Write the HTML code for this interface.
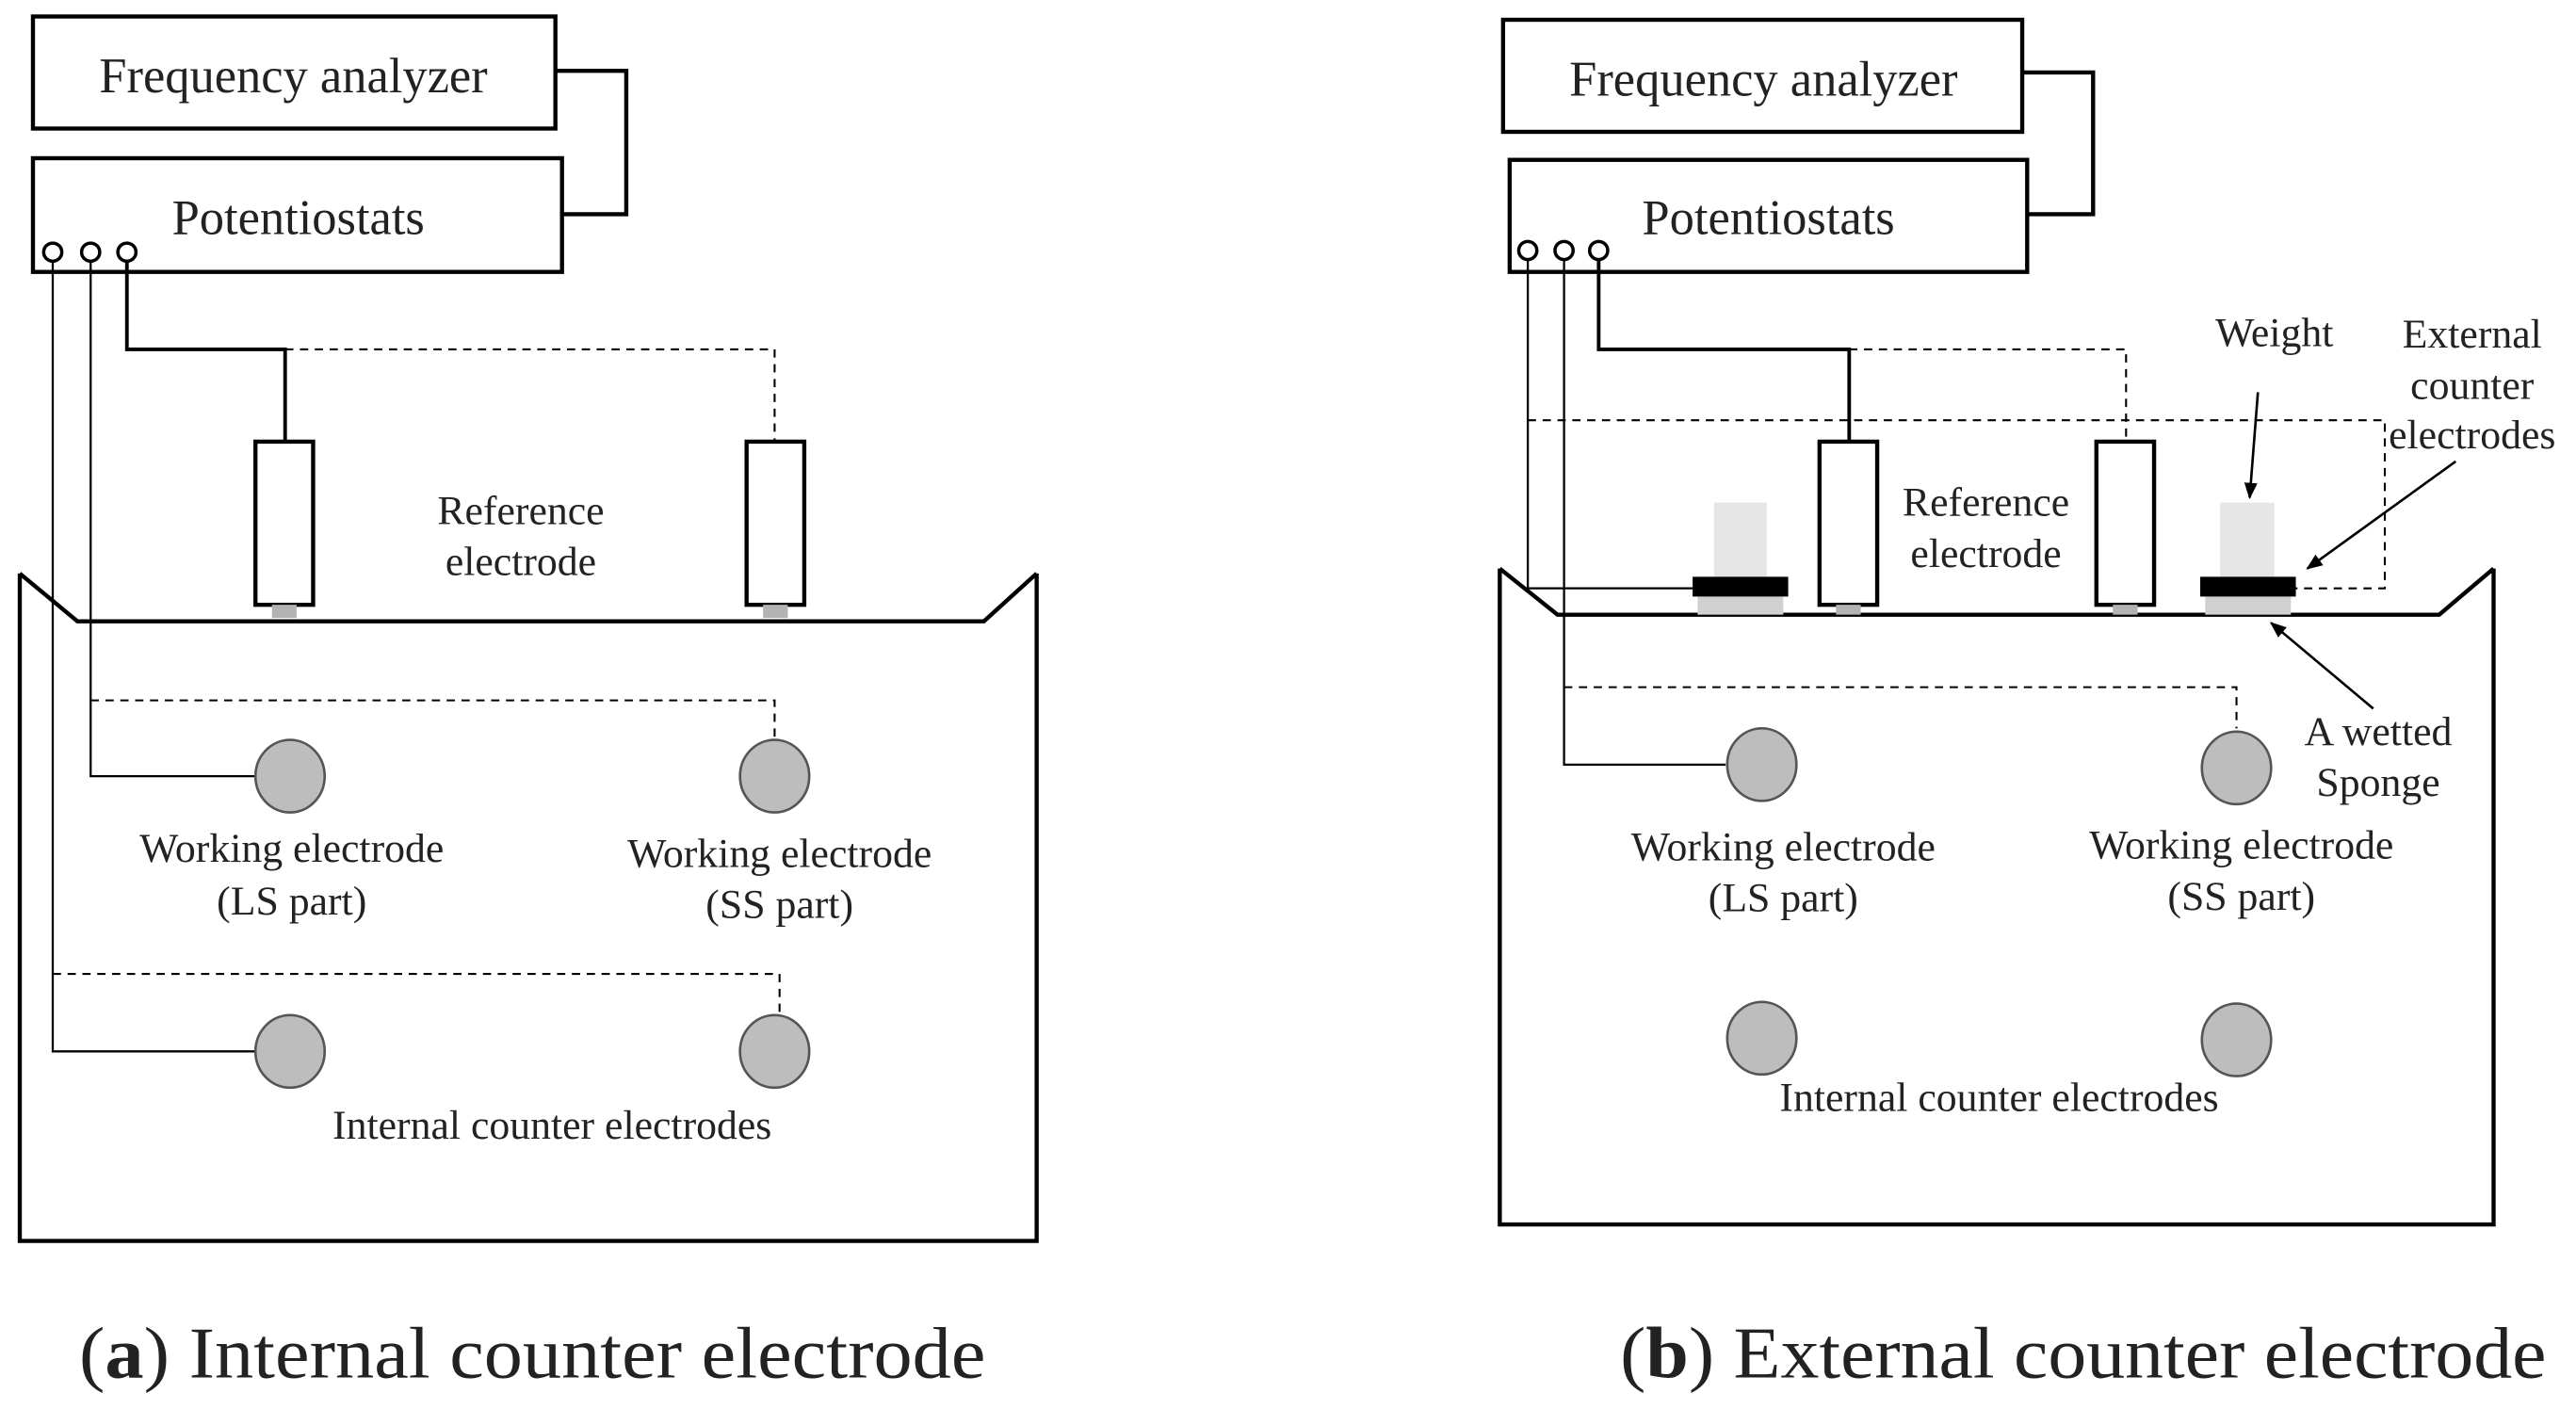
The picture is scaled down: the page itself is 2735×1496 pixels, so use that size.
<!DOCTYPE html>
<html><head><meta charset="utf-8"><style>
html,body{margin:0;padding:0;background:#fff;width:2735px;height:1496px;overflow:hidden}
svg{display:block}
text{font-family:"Liberation Serif",serif;fill:#222}
</style></head><body>
<svg width="2735" height="1496" viewBox="0 0 1563 855" preserveAspectRatio="none" xmlns="http://www.w3.org/2000/svg">
<defs><marker id="ar" markerWidth="10" markerHeight="10" refX="9" refY="5" orient="auto" markerUnits="userSpaceOnUse"><path d="M0,1 L10,5 L0,9 z" fill="#000"/></marker></defs>
<g fill="none" stroke="#000">
<rect x="20" y="10" width="317" height="68" stroke-width="2.5"/>
<rect x="20" y="96" width="321" height="69" stroke-width="2.5"/>
<polyline points="337,43 380,43 380,130 341,130" stroke-width="2.5"/>
<circle cx="32" cy="153" r="5.5" stroke-width="2"/><circle cx="55" cy="153" r="5.5" stroke-width="2"/><circle cx="77" cy="153" r="5.5" stroke-width="2"/>
<polyline points="32,159 32,638 155,638" stroke-width="1.3"/>
<polyline points="55,159 55,471 155,471" stroke-width="1.3"/>
<polyline points="77,159 77,212 173,212 173,268" stroke-width="2.2"/>
<polyline points="173,212 470,212 470,268" stroke-width="1.2" stroke-dasharray="5,4"/>
<polyline points="55,425 470,425 470,450" stroke-width="1.2" stroke-dasharray="5,4"/>
<polyline points="32,591 473,591 473,618" stroke-width="1.2" stroke-dasharray="5,4"/>
<rect x="155" y="268" width="35" height="99" stroke-width="2.5"/>
<rect x="453" y="268" width="35" height="99" stroke-width="2.5"/>
<polyline points="12,348 12,753 629,753 629,348" stroke-width="2.5"/>
<polyline points="12,348 47,377 597,377 629,348" stroke-width="2.5"/>
<rect x="912" y="12" width="315" height="68" stroke-width="2.5"/>
<rect x="916" y="97" width="314" height="68" stroke-width="2.5"/>
<polyline points="1227,44 1270,44 1270,130 1230,130" stroke-width="2.5"/>
<circle cx="927" cy="152" r="5.5" stroke-width="2"/><circle cx="949" cy="152" r="5.5" stroke-width="2"/><circle cx="970" cy="152" r="5.5" stroke-width="2"/>
<polyline points="927,158 927,357 1027,357" stroke-width="1.3"/>
<polyline points="949,158 949,464 1047,464" stroke-width="1.3"/>
<polyline points="970,158 970,212 1122,212 1122,268" stroke-width="2.2"/>
<polyline points="1122,212 1290,212 1290,268" stroke-width="1.2" stroke-dasharray="5,4"/>
<polyline points="927,255 1447,255 1447,357 1393,357" stroke-width="1.2" stroke-dasharray="5,4"/>
<polyline points="949,417 1357,417 1357,442" stroke-width="1.2" stroke-dasharray="5,4"/>
<rect x="1104" y="268" width="35" height="99" stroke-width="2.5"/>
<rect x="1272" y="268" width="35" height="99" stroke-width="2.5"/>
<polyline points="910,345 910,743 1513,743 1513,345" stroke-width="2.5"/>
<polyline points="910,345 945,373 1480,373 1513,345" stroke-width="2.5"/>
<line x1="1370" y1="238" x2="1365" y2="302" stroke-width="1.5" marker-end="url(#ar)"/>
<line x1="1490" y1="280" x2="1400" y2="345" stroke-width="1.5" marker-end="url(#ar)"/>
<line x1="1440" y1="430" x2="1378" y2="378" stroke-width="1.5" marker-end="url(#ar)"/>
</g>
<g fill="#b3b3b3" stroke="none">
<rect x="165" y="367" width="15" height="8"/><rect x="463" y="367" width="15" height="8"/>
<rect x="1114" y="367" width="15" height="6"/><rect x="1282" y="367" width="15" height="6"/>
</g>
<g fill="#bdbdbd" stroke="#555" stroke-width="1.5">
<ellipse cx="176" cy="471" rx="21" ry="22"/><ellipse cx="470" cy="471" rx="21" ry="22"/>
<ellipse cx="176" cy="638" rx="21" ry="22"/><ellipse cx="470" cy="638" rx="21" ry="22"/>
<ellipse cx="1069" cy="464" rx="21" ry="22"/><ellipse cx="1357" cy="466" rx="21" ry="22"/>
<ellipse cx="1069" cy="630" rx="21" ry="22"/><ellipse cx="1357" cy="631" rx="21" ry="22"/>
</g>
<g stroke="none">
<rect x="1040" y="305" width="32" height="45" fill="#e6e6e6"/><rect x="1347" y="305" width="33" height="45" fill="#e6e6e6"/>
<rect x="1030" y="362" width="52" height="11" fill="#d0d0d0"/><rect x="1338" y="362" width="52" height="11" fill="#d0d0d0"/>
<rect x="1027" y="350" width="58" height="12" fill="#000"/><rect x="1335" y="350" width="58" height="12" fill="#000"/>
</g>
<g font-size="30" text-anchor="middle">
<text x="178" y="56">Frequency analyzer</text>
<text x="181" y="142">Potentiostats</text>
<text x="1070" y="58">Frequency analyzer</text>
<text x="1073" y="142">Potentiostats</text>
</g>
<g font-size="25" text-anchor="middle">
<text x="316" y="318">Reference</text><text x="316" y="349">electrode</text>
<text x="177" y="523">Working electrode</text><text x="177" y="555">(LS part)</text>
<text x="473" y="526">Working electrode</text><text x="473" y="557">(SS part)</text>
<text x="335" y="691">Internal counter electrodes</text>
<text x="1205" y="313">Reference</text><text x="1205" y="344">electrode</text>
<text x="1082" y="522">Working electrode</text><text x="1082" y="553">(LS part)</text>
<text x="1360" y="521">Working electrode</text><text x="1360" y="552">(SS part)</text>
<text x="1213" y="674">Internal counter electrodes</text>
<text x="1380" y="210">Weight</text>
<text x="1500" y="211">External</text><text x="1500" y="242">counter</text><text x="1500" y="272">electrodes</text>
<text x="1443" y="452">A wetted</text><text x="1443" y="483">Sponge</text>
</g>
<g font-size="44">
<text x="48" y="836" textLength="550" lengthAdjust="spacingAndGlyphs">(<tspan font-weight="bold">a</tspan>) Internal counter electrode</text>
<text x="983" y="836" textLength="562" lengthAdjust="spacingAndGlyphs">(<tspan font-weight="bold">b</tspan>) External counter electrode</text>
</g>
</svg>
</body></html>
